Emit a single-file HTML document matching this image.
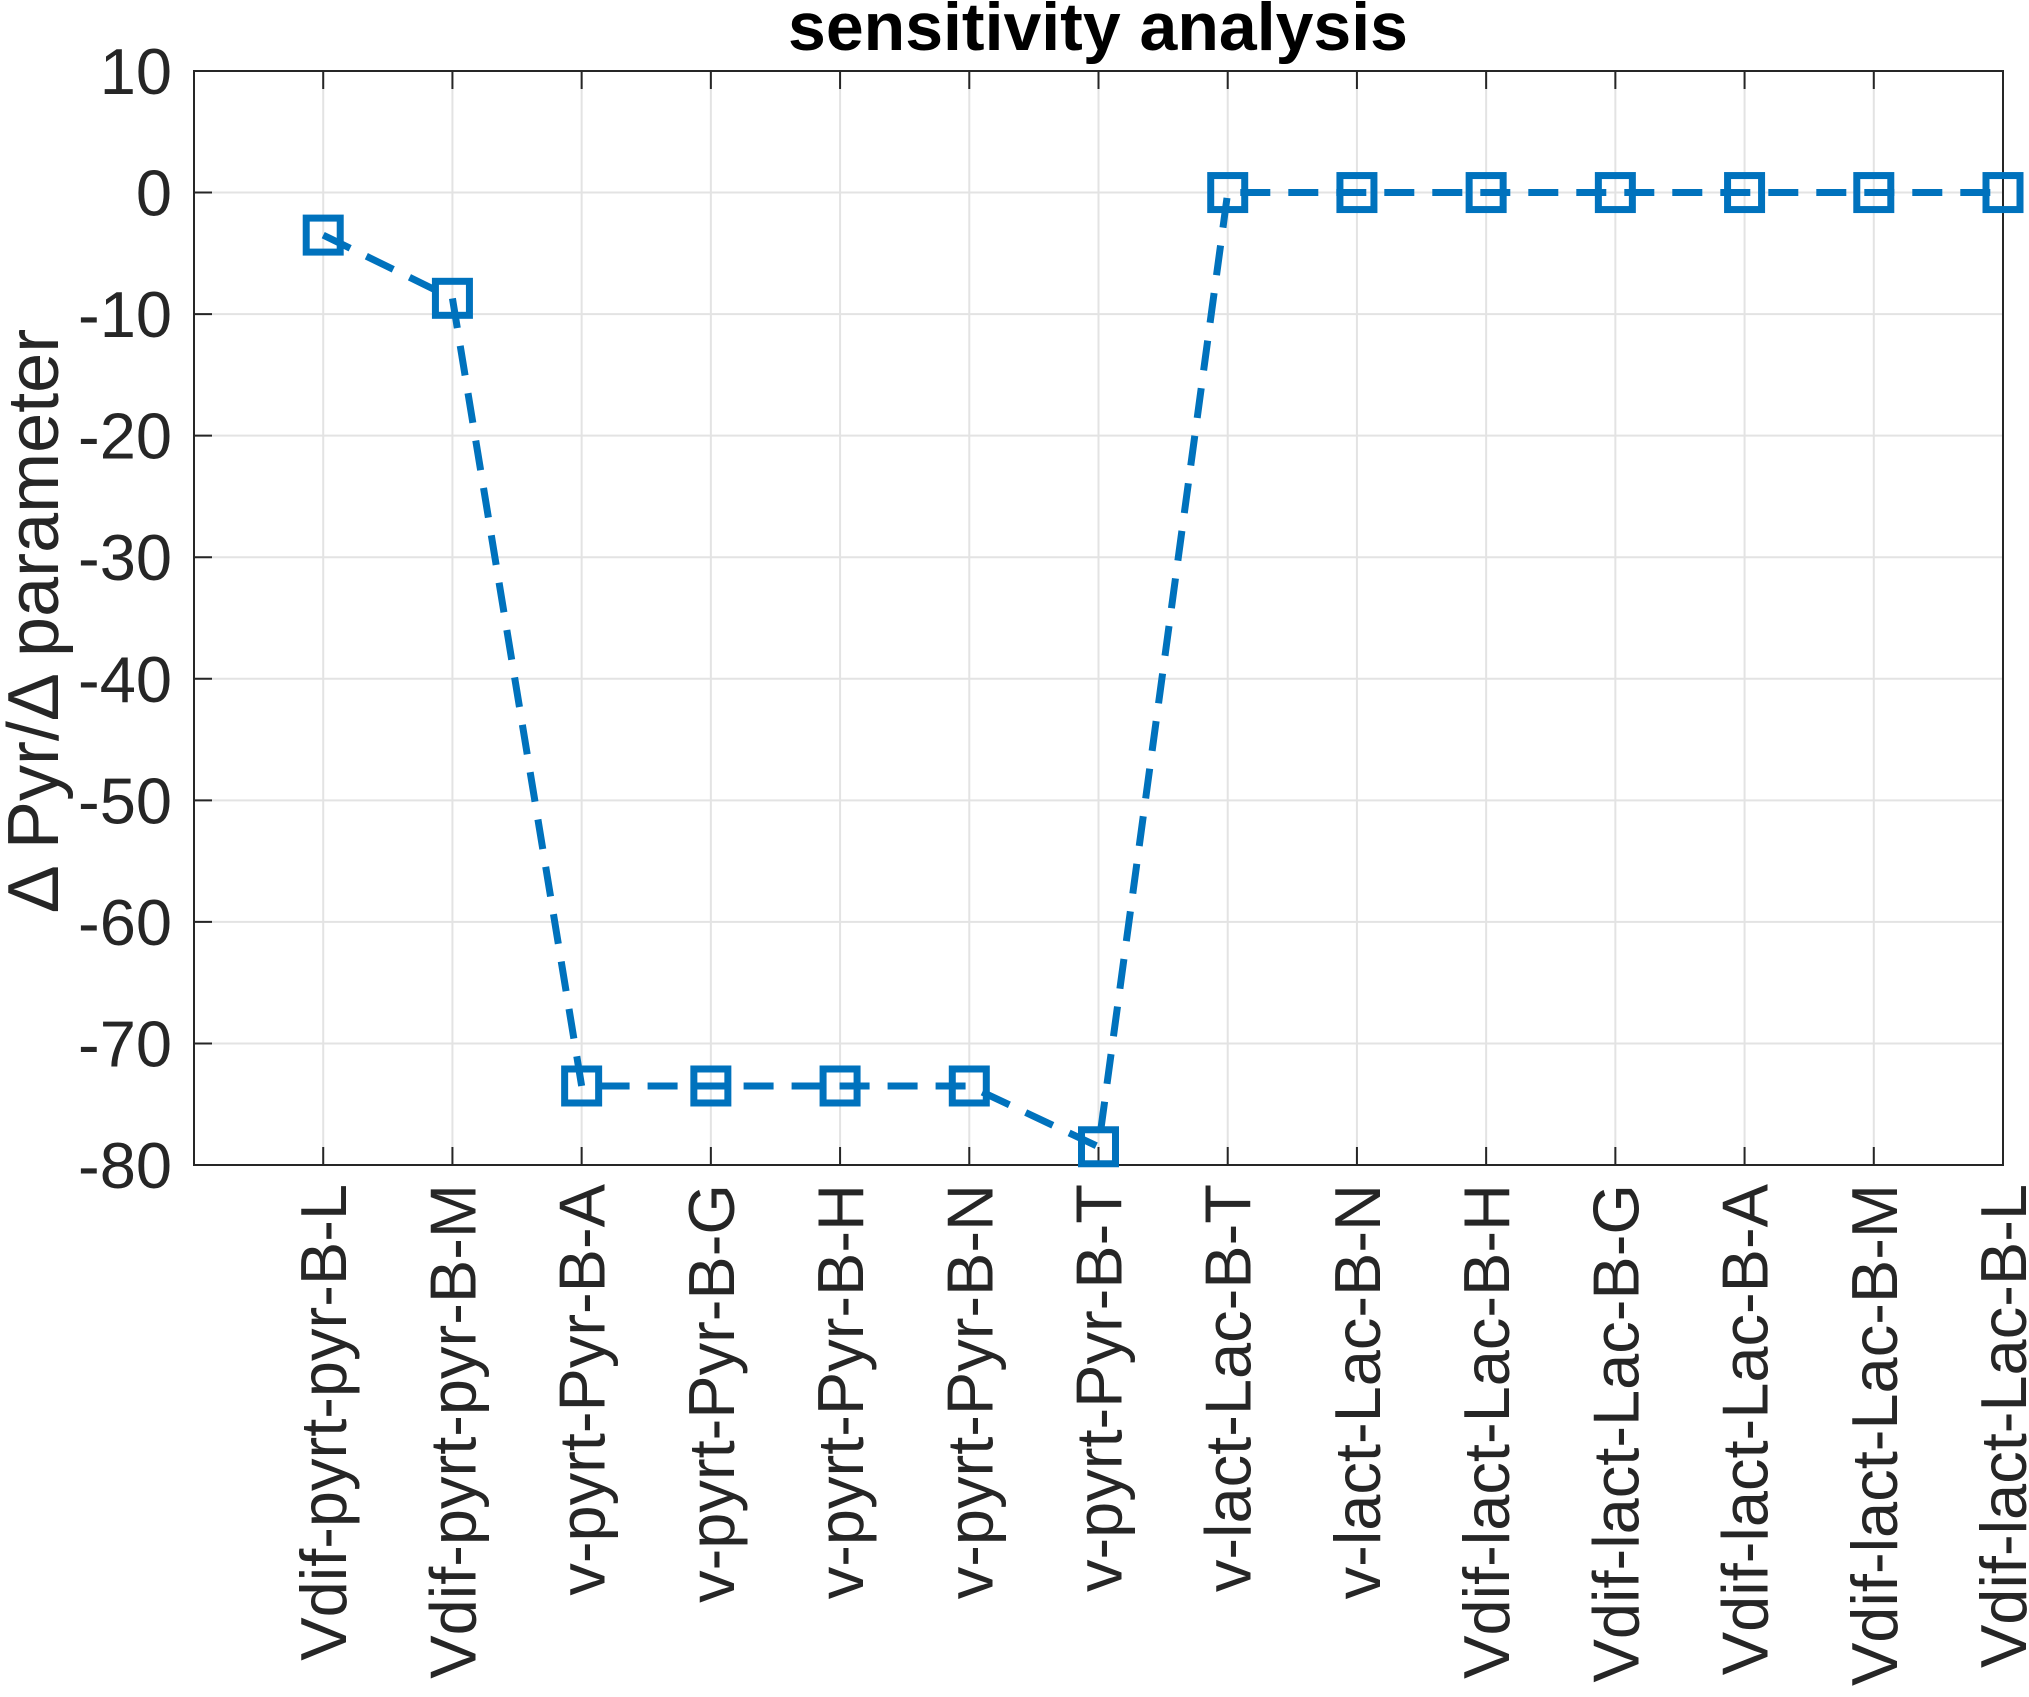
<!DOCTYPE html>
<html><head><meta charset="utf-8"><style>
html,body{margin:0;padding:0;background:#fff;}
svg text{font-family:"Liberation Sans",Arial,sans-serif;fill:#262626;}
</style></head><body>
<svg id="chart" width="2029" height="1692" viewBox="0 0 2029 1692" xmlns="http://www.w3.org/2000/svg">
<rect x="0" y="0" width="2029" height="1692" fill="#fff"/>
<g id="grid"></g>
<g id="axes"></g>
<g id="series"></g>
<text x="1098" y="50" text-anchor="middle" font-size="68" font-weight="bold" style="fill:#000">sensitivity analysis</text>
<text transform="translate(58,621) rotate(-90)" text-anchor="middle" font-size="72">Δ Pyr/Δ parameter</text>
</svg>
<script>
const categories = ["Vdif-pyrt-pyr-B-L","Vdif-pyrt-pyr-B-M","v-pyrt-Pyr-B-A","v-pyrt-Pyr-B-G","v-pyrt-Pyr-B-H","v-pyrt-Pyr-B-N","v-pyrt-Pyr-B-T","v-lact-Lac-B-T","v-lact-Lac-B-N","Vdif-lact-Lac-B-H","Vdif-lact-Lac-B-G","Vdif-lact-Lac-B-A","Vdif-lact-Lac-B-M","Vdif-lact-Lac-B-L"];
const values = [-3.5,-8.7,-73.5,-73.5,-73.5,-73.5,-78.5,0,0,0,0,0,0,0];
const yTicks = [10,0,-10,-20,-30,-40,-50,-60,-70,-80];

const L=194,R=2003,T=71,B=1165;
const xMin=0,xMax=14,yMin=-80,yMax=10;
function xs(i){return L+(i+1-xMin)/(xMax-xMin)*(R-L);}
function ys(v){return B-(v-yMin)/(yMax-yMin)*(B-T);}
const NS="http://www.w3.org/2000/svg";
function mk(tag,attrs,parent){const e=document.createElementNS(NS,tag);for(const k in attrs)e.setAttribute(k,attrs[k]);parent.appendChild(e);return e;}
const grid=document.getElementById('grid'),axes=document.getElementById('axes'),series=document.getElementById('series');

yTicks.forEach(t=>{
  const y=ys(t);
  const g=mk('line',{x1:L,x2:R,y1:y,y2:y,stroke:'#e3e3e3','stroke-width':2},grid);
  
  
  const tk=mk('line',{x1:L,x2:L+18,y1:y,y2:y,stroke:'#262626','stroke-width':2},axes);
  
  
  const tx=mk('text',{x:172,y:y+23,'text-anchor':'end','font-size':65},axes);
  tx.textContent=String(t);
  
  
});
categories.forEach((c,i)=>{
  const x=xs(i);
  const g=mk('line',{x1:x,x2:x,y1:T,y2:B,stroke:'#e3e3e3','stroke-width':2},grid);
  
  
  const tk=mk('line',{x1:x,x2:x,y1:B,y2:B-18,stroke:'#262626','stroke-width':2},axes);
  
  
  const tk2=mk('line',{x1:x,x2:x,y1:T,y2:T+18,stroke:'#262626','stroke-width':2},axes);
  
  
  const tx=mk('text',{transform:`translate(${x+23},1184) rotate(-90)`,'text-anchor':'end','font-size':65},axes);
  tx.textContent=c;
  
  
});
const frame=mk('rect',{x:L,y:T,width:R-L,height:B-T,fill:'none',stroke:'#262626','stroke-width':2},axes);



const pts=values.map((v,i)=>xs(i)+','+ys(v)).join(' ');
const line=mk('polyline',{points:pts,fill:'none',stroke:'#0072BD','stroke-width':7,'stroke-dasharray':'30 18'},series);


values.forEach((v,i)=>{
  const m=mk('rect',{x:xs(i)-17,y:ys(v)-17,width:34,height:34,fill:'none',stroke:'#0072BD','stroke-width':7},series);
  
  
});
</script>
</body></html>
